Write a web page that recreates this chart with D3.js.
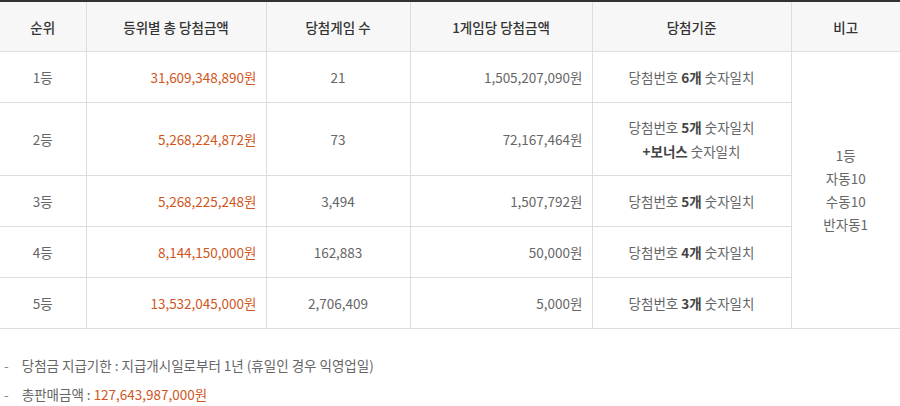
<!DOCTYPE html>
<html><head><meta charset="utf-8">
<script src="https://cdn.jsdelivr.net/npm/d3@7"></script>
<style>
body{margin:0;background:#fff;font-family:"Noto Sans CJK KR","Noto Sans",sans-serif;color:#666;font-size:13.5px;}
table{border-collapse:collapse;table-layout:fixed;width:900px;border-top:2px solid #333;}
th{background:#f7f7f7;color:#333;font-weight:500;height:47px;border:1px solid #ddd;border-top:none;}
td{border:1px solid #ddd;text-align:center;height:50px;padding:0 9px;}
td.r{text-align:right;}
.o{color:#d0561d;}
b{color:#444;font-weight:700;}
th:first-child,td:first-child{border-left:none;}
th:last-child,td.note{border-right:none;}
ul{list-style:none;margin:22px 0 0 0;padding:0 0 0 4px;}
li{height:29px;line-height:29px;}
li:before{content:"- ";margin-right:10px;color:#888;}
</style></head><body>
<div id="t"></div>
<script>
const headers=["순위","등위별 총 당첨금액","당첨게임 수","1게임당 당첨금액","당첨기준","비고"];
const ranks=["1등","2등","3등","4등","5등"];
const totals=["31,609,348,890원","5,268,224,872원","5,268,225,248원","8,144,150,000원","13,532,045,000원"];
const games=["21","73","3,494","162,883","2,706,409"];
const perGame=["1,505,207,090원","72,167,464원","1,507,792원","50,000원","5,000원"];
const criteria=["당첨번호 <b>6개</b> 숫자일치","당첨번호 <b>5개</b> 숫자일치<br><b>+보너스</b> 숫자일치","당첨번호 <b>5개</b> 숫자일치","당첨번호 <b>4개</b> 숫자일치","당첨번호 <b>3개</b> 숫자일치"];
const note=["1등","자동10","수동10","반자동1"];
const rowH=[50,73,50,50,50];
const colW=[86,180,144,182,199,109];
const tbl=d3.select("#t").append("table");
tbl.append("colgroup").selectAll("col").data(colW).join("col").style("width",d=>d+"px");
tbl.append("thead").append("tr").selectAll("th").data(headers).join("th").text(d=>d);
const tb=tbl.append("tbody");
ranks.forEach((r,i)=>{
  const tr=tb.append("tr").style("height",rowH[i]+"px");
  tr.append("td").text(r);
  tr.append("td").attr("class","r o").text(totals[i]);
  tr.append("td").text(games[i]);
  tr.append("td").attr("class","r").text(perGame[i]);
  tr.append("td").style("line-height","24px").html(criteria[i]);
  if(i===0) tr.append("td").attr("class","note").attr("rowspan",5).style("line-height","23px").html(note.join("<br>"));
});
const ul=d3.select("body").append("ul");
ul.append("li").text("당첨금 지급기한 : 지급개시일로부터 1년 (휴일인 경우 익영업일)");
const li=ul.append("li");li.append("span").text("총판매금액 : ");li.append("span").attr("class","o").text("127,643,987,000원");
</script></body></html>
